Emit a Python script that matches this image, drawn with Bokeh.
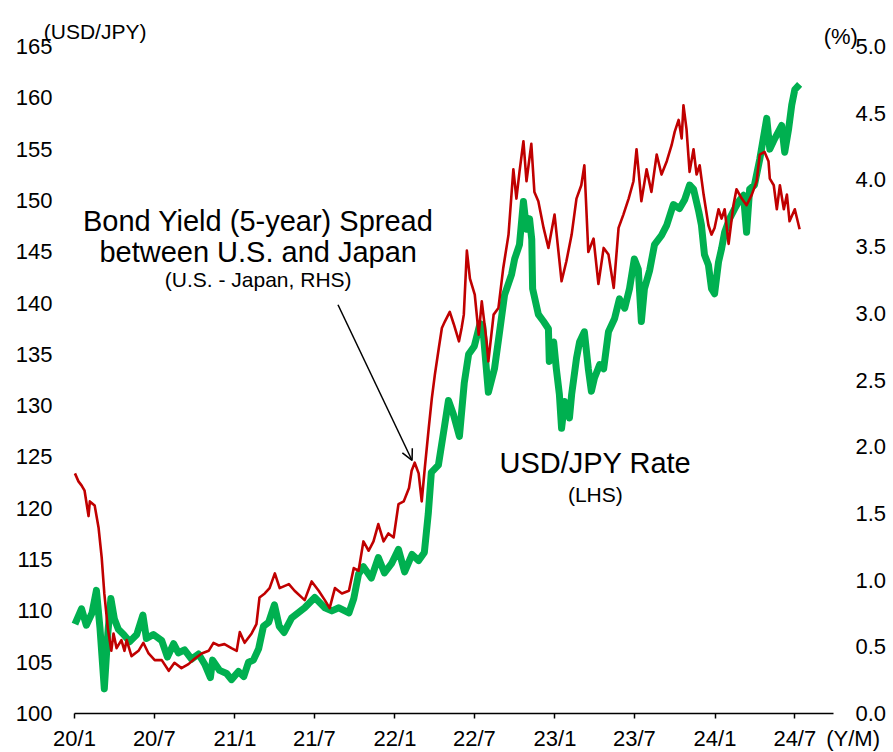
import pandas as pd
from bokeh.plotting import figure
from bokeh.models import (Range1d, LinearAxis, FixedTicker, Label, Arrow, OpenHead,
                          NumeralTickFormatter)
from bokeh.embed import file_html
from bokeh.resources import INLINE

# ---------------- data ----------------
usdjpy_dates = [
    "2020-01-02", "2020-01-17", "2020-01-28", "2020-02-10", "2020-02-20", "2020-02-28", "2020-03-09",
    "2020-03-17", "2020-03-24", "2020-04-01", "2020-04-10", "2020-04-22", "2020-05-06", "2020-05-22",
    "2020-06-05", "2020-06-13", "2020-06-29", "2020-07-18", "2020-07-31", "2020-08-14", "2020-08-25",
    "2020-09-08", "2020-09-24", "2020-10-10", "2020-10-24", "2020-11-06", "2020-11-11", "2020-11-27",
    "2020-12-13", "2020-12-24", "2021-01-09", "2021-01-21", "2021-02-01", "2021-02-12", "2021-02-24",
    "2021-03-07", "2021-03-19", "2021-04-01", "2021-04-12", "2021-04-23", "2021-05-10", "2021-06-09",
    "2021-07-02", "2021-07-25", "2021-08-10", "2021-08-26", "2021-09-18", "2021-09-29", "2021-10-10",
    "2021-10-21", "2021-11-08", "2021-11-24", "2021-12-08", "2021-12-24", "2022-01-09", "2022-01-23",
    "2022-02-09", "2022-02-24", "2022-03-09", "2022-03-18", "2022-03-25", "2022-04-10", "2022-04-24",
    "2022-05-03", "2022-05-14", "2022-05-28", "2022-06-08", "2022-06-18", "2022-07-01", "2022-07-14",
    "2022-07-20", "2022-08-02", "2022-08-16", "2022-08-27", "2022-09-08", "2022-09-24", "2022-10-01",
    "2022-10-12", "2022-10-21", "2022-10-28", "2022-11-04", "2022-11-09", "2022-11-11", "2022-11-24",
    "2022-12-06", "2022-12-17", "2022-12-19", "2022-12-29", "2023-01-04", "2023-01-11", "2023-01-16",
    "2023-01-23", "2023-02-03", "2023-02-08", "2023-02-19", "2023-02-26", "2023-03-09", "2023-03-18",
    "2023-03-25", "2023-04-01", "2023-04-13", "2023-04-22", "2023-05-03", "2023-05-17", "2023-05-28",
    "2023-06-09", "2023-06-20", "2023-07-01", "2023-07-10", "2023-07-17", "2023-07-24", "2023-08-05",
    "2023-08-16", "2023-09-01", "2023-09-13", "2023-09-28", "2023-10-12", "2023-10-24", "2023-11-04",
    "2023-11-13", "2023-11-25", "2023-12-01", "2023-12-08", "2023-12-17", "2023-12-24", "2023-12-31",
    "2024-01-09", "2024-01-16", "2024-01-23", "2024-02-03", "2024-02-15", "2024-02-24", "2024-03-06",
    "2024-03-13", "2024-03-20", "2024-03-31", "2024-04-12", "2024-04-28", "2024-05-05", "2024-05-16",
    "2024-06-01", "2024-06-08", "2024-06-17", "2024-06-24", "2024-07-01", "2024-07-12",
]
usdjpy = [
    108.7, 110.2, 108.6, 109.8, 112.0, 108.4, 102.4,
    107.8, 111.2, 109.2, 108.2, 107.7, 107.0, 107.7,
    109.6, 107.3, 107.7, 107.1, 105.5, 106.8, 105.9,
    106.2, 105.3, 105.8, 104.8, 103.5, 105.2, 104.2,
    103.9, 103.3, 104.1, 103.6, 105.0, 105.2, 106.3,
    108.5, 108.9, 110.6, 108.5, 107.9, 109.3, 110.3,
    111.3, 110.3, 110.0, 110.3, 109.8, 111.2, 113.6,
    114.3, 113.2, 115.2, 113.7, 114.6, 116.0, 113.8,
    115.5, 114.9, 115.7, 119.5, 123.5, 124.2, 128.0,
    130.5, 129.2, 127.0, 132.2, 135.0, 135.8, 138.0,
    137.8, 131.3, 133.6, 137.0, 140.8, 142.8, 144.3,
    145.7, 149.9, 147.2, 148.2, 146.2, 141.4, 138.9,
    138.2, 137.5, 134.3, 136.2, 133.6, 131.1, 127.8,
    130.4, 128.8, 131.1, 134.6, 136.2, 137.2, 133.6,
    131.4, 132.7, 134.0, 133.6, 137.2, 138.5, 140.4,
    139.5, 141.4, 144.3, 143.3, 138.2, 141.4, 143.2,
    145.7, 146.6, 147.6, 149.6, 149.2, 150.1, 151.5,
    151.1, 148.9, 147.6, 144.7, 143.7, 141.4, 140.9,
    144.0, 145.3, 146.9, 148.2, 149.2, 149.9, 150.5,
    146.9, 151.1, 151.5, 154.0, 158.0, 155.0, 156.0,
    157.3, 154.7, 157.0, 159.3, 160.8, 161.3,
]

spread_dates = [
    "2020-01-02", "2020-01-10", "2020-01-17", "2020-01-24", "2020-02-02", "2020-02-05", "2020-02-16",
    "2020-02-25", "2020-03-03", "2020-03-09", "2020-03-17", "2020-03-25", "2020-03-30", "2020-04-06",
    "2020-04-17", "2020-04-24", "2020-04-29", "2020-05-10", "2020-05-26", "2020-06-06", "2020-06-18",
    "2020-07-02", "2020-07-18", "2020-08-03", "2020-08-16", "2020-09-01", "2020-09-17", "2020-10-01",
    "2020-10-17", "2020-11-02", "2020-11-13", "2020-11-25", "2020-12-08", "2020-12-24", "2021-01-05",
    "2021-01-12", "2021-01-23", "2021-02-08", "2021-02-19", "2021-02-26", "2021-03-10", "2021-03-21",
    "2021-04-02", "2021-04-13", "2021-05-04", "2021-05-17", "2021-06-09", "2021-06-25", "2021-07-11",
    "2021-07-25", "2021-08-05", "2021-08-17", "2021-09-02", "2021-09-18", "2021-09-29", "2021-10-10",
    "2021-10-21", "2021-11-02", "2021-11-13", "2021-11-24", "2021-12-06", "2021-12-17", "2021-12-29",
    "2022-01-09", "2022-01-21", "2022-02-02", "2022-02-08", "2022-02-15", "2022-02-24", "2022-03-03",
    "2022-03-10", "2022-03-19", "2022-03-26", "2022-04-02", "2022-04-11", "2022-04-18", "2022-04-25",
    "2022-05-06", "2022-05-15", "2022-05-27", "2022-06-02", "2022-06-07", "2022-06-14", "2022-06-21",
    "2022-07-02", "2022-07-11", "2022-07-18", "2022-07-29", "2022-08-02", "2022-08-14", "2022-08-25",
    "2022-09-05", "2022-09-17", "2022-09-28", "2022-10-05", "2022-10-12", "2022-10-21", "2022-10-28",
    "2022-11-08", "2022-11-15", "2022-11-24", "2022-12-06", "2022-12-17", "2022-12-31", "2023-01-16",
    "2023-01-27", "2023-02-08", "2023-02-19", "2023-03-02", "2023-03-09", "2023-03-18", "2023-03-30",
    "2023-04-10", "2023-04-22", "2023-05-03", "2023-05-15", "2023-05-26", "2023-06-06", "2023-06-18",
    "2023-06-29", "2023-07-06", "2023-07-17", "2023-07-29", "2023-08-09", "2023-08-21", "2023-09-01",
    "2023-09-13", "2023-09-24", "2023-10-01", "2023-10-10", "2023-10-17", "2023-10-21", "2023-10-28",
    "2023-11-04", "2023-11-13", "2023-11-20", "2023-11-27", "2023-12-06", "2023-12-17", "2023-12-24",
    "2023-12-31", "2024-01-09", "2024-01-16", "2024-01-23", "2024-02-01", "2024-02-12", "2024-02-19",
    "2024-03-02", "2024-03-13", "2024-03-25", "2024-04-05", "2024-04-12", "2024-04-23", "2024-05-02",
    "2024-05-05", "2024-05-14", "2024-05-21", "2024-05-28", "2024-06-06", "2024-06-13", "2024-06-19",
    "2024-07-01", "2024-07-12",
]
spread = [
    1.80, 1.74, 1.71, 1.67, 1.48, 1.59, 1.56,
    1.39, 1.17, 0.90, 0.64, 0.47, 0.60, 0.49,
    0.55, 0.47, 0.55, 0.43, 0.47, 0.53, 0.45,
    0.40, 0.40, 0.32, 0.38, 0.34, 0.37, 0.41,
    0.45, 0.47, 0.53, 0.51, 0.52, 0.49, 0.47,
    0.61, 0.53, 0.60, 0.67, 0.87, 0.90, 0.94,
    1.05, 0.94, 0.97, 0.92, 0.85, 0.99, 0.92,
    0.85, 0.79, 0.94, 0.90, 0.92, 1.09, 1.07,
    1.29, 1.22, 1.29, 1.42, 1.29, 1.35, 1.32,
    1.57, 1.59, 1.69, 1.82, 1.88, 1.80, 1.59,
    1.84, 2.14, 2.36, 2.54, 2.74, 2.89, 2.94,
    3.01, 2.92, 2.79, 2.89, 2.99, 3.47, 3.26,
    3.14, 2.84, 3.09, 2.79, 2.64, 2.99, 3.04,
    3.34, 3.59, 4.08, 3.86, 4.06, 4.29, 3.99,
    4.27, 3.91, 3.84, 3.64, 3.49, 3.74, 3.24,
    3.39, 3.59, 3.86, 3.96, 4.11, 3.46, 3.56,
    3.22, 3.49, 3.44, 3.19, 3.64, 3.74, 3.86,
    3.99, 4.23, 3.84, 4.08, 3.91, 4.19, 4.04,
    4.14, 4.26, 4.36, 4.45, 4.31, 4.56, 4.38,
    4.06, 4.23, 4.04, 4.11, 3.89, 3.66, 3.59,
    3.64, 3.78, 3.71, 3.78, 3.52, 3.81, 3.93,
    3.86, 3.81, 3.89, 3.99, 4.19, 4.21, 4.14,
    4.01, 3.96, 3.78, 3.96, 3.78, 3.89, 3.69,
    3.78, 3.63,
]

x_tick_dates = ["2020-01-01", "2020-07-01", "2021-01-01", "2021-07-01", "2022-01-01",
                "2022-07-01", "2023-01-01", "2023-07-01", "2024-01-01", "2024-07-01"]
x_tick_labels = ["20/1", "20/7", "21/1", "21/7", "22/1", "22/7", "23/1", "23/7", "24/1", "24/7"]
left_ticks = [100, 105, 110, 115, 120, 125, 130, 135, 140, 145, 150, 155, 160, 165]
right_ticks = [0.0, 0.5, 1.0, 1.5, 2.0, 2.5, 3.0, 3.5, 4.0, 4.5, 5.0]


def ms(s):
    return pd.Timestamp(s).value / 1e6


FONT = "Liberation Sans"
GREEN = "#00B050"
RED = "#C00000"

# ---------------- layout geometry (pixels of the canvas) ----------------
W, H = 893, 752
PX_START, PX_JUL24, PX_AXIS_END = 74.0, 794.3, 833.0
ms0, ms1 = ms("2020-01-01"), ms("2024-07-01")
mpp = (ms1 - ms0) / (PX_JUL24 - PX_START)          # ms per pixel
x_axis_end = ms0 + (PX_AXIS_END - PX_START) * mpp
Y100, Y165 = 713.0, 46.0
ppu = (Y100 - Y165) / 65.0                          # pixels per yen
y_lo = 100 - (H - Y100) / ppu
y_hi = 165 + Y165 / ppu

p = figure(width=W, height=H, x_axis_type="datetime", title=None,
           x_range=Range1d(start=ms0 - PX_START * mpp, end=ms0 + (W - PX_START) * mpp),
           y_range=Range1d(start=y_lo, end=y_hi),
           output_backend="svg", toolbar_location=None,
           min_border_left=0, min_border_right=0, min_border_top=0, min_border_bottom=0)
p.extra_y_ranges = {"spread": Range1d(start=(y_lo - 100) / 13.0, end=(y_hi - 100) / 13.0)}
p.xgrid.visible = False
p.ygrid.visible = False
p.outline_line_color = None
p.background_fill_color = "white"
p.border_fill_color = "white"

# bottom axis
xa = p.xaxis[0]
xa.fixed_location = 100
xa.bounds = (ms0, x_axis_end)
xa.ticker = FixedTicker(ticks=[ms(d) for d in x_tick_dates])
xa.major_label_overrides = {ms(d): lab for d, lab in zip(x_tick_dates, x_tick_labels)}
xa.axis_line_color = "black"
xa.axis_line_width = 1.5
xa.major_tick_line_color = "black"
xa.major_tick_line_width = 1.5
xa.major_tick_in = 0
xa.major_tick_out = 5
xa.minor_tick_line_color = None
xa.major_label_standoff = 7
xa.major_label_text_font = FONT
xa.major_label_text_font_size = "22px"
xa.major_label_text_color = "black"

# left axis
ya = p.yaxis[0]
ya.fixed_location = ms0
ya.bounds = (100, 165)
ya.ticker = FixedTicker(ticks=left_ticks)
ya.axis_line_color = None
ya.major_tick_line_color = None
ya.minor_tick_line_color = None
ya.major_tick_in = 0
ya.major_tick_out = 0
ya.major_label_standoff = 22
ya.major_label_text_font = FONT
ya.major_label_text_font_size = "22px"
ya.major_label_text_color = "black"

# right axis
ra = LinearAxis(y_range_name="spread", ticker=FixedTicker(ticks=right_ticks),
                formatter=NumeralTickFormatter(format="0.0"))
ra.fixed_location = x_axis_end
ra.bounds = (0, 5)
ra.axis_line_color = None
ra.major_tick_line_color = None
ra.minor_tick_line_color = None
ra.major_tick_in = 0
ra.major_tick_out = 0
ra.major_label_standoff = 22
ra.major_label_text_font = FONT
ra.major_label_text_font_size = "22px"
ra.major_label_text_color = "black"
p.add_layout(ra, "right")

# series
p.line(x=pd.to_datetime(usdjpy_dates), y=usdjpy, line_color=GREEN, line_width=7,
       line_join="round")
p.line(x=pd.to_datetime(spread_dates), y=spread, line_color=RED, line_width=2.6,
       line_join="round", y_range_name="spread")


# annotations
def add_label(x, y, text, size, baseline="alphabetic"):
    p.add_layout(Label(x=x, y=y, text=text, text_align="center", text_baseline=baseline,
                       text_font=FONT, text_font_size=size, text_color="black"))


add_label(ms("2021-02-23"), 148.04, "Bond Yield (5-year) Spread", "29px")
add_label(ms("2021-02-23"), 144.93, "between U.S. and Japan", "29px")
add_label(ms("2021-02-23"), 142.29, "(U.S. - Japan, RHS)", "21px")
add_label(ms("2023-04-03"), 124.46, "USD/JPY Rate", "29px")
add_label(ms("2023-04-03"), 121.34, "(LHS)", "21px")
add_label(ms("2020-02-17"), 166.49, "(USD/JPY)", "21px")
add_label(ms("2024-10-14"), 165.97, "(%)", "22px")
add_label(ms("2024-11-11"), 98.83, "(Y/M)", "22px", baseline="top")

p.add_layout(Arrow(end=OpenHead(size=11, line_width=1.5, line_color="black"),
                   x_start=ms("2021-08-24"), y_start=139.83,
                   x_end=ms("2022-02-09"), y_end=124.66,
                   line_width=1.5, line_color="black"))

open("out.html", "w").write(file_html(p, INLINE))
